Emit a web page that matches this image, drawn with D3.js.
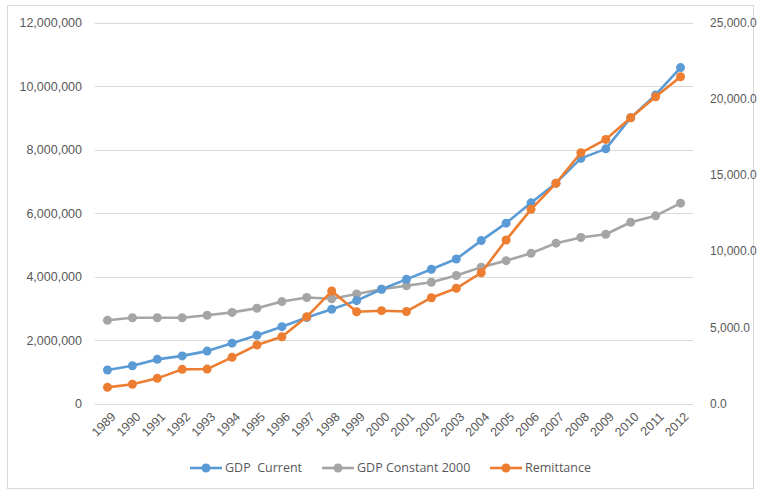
<!DOCTYPE html>
<html>
<head>
<meta charset="utf-8">
<script src="https://cdn.jsdelivr.net/npm/d3@7"></script>
<style>
  html, body { margin: 0; padding: 0; background: #fff; }
  svg { display: block; font-family: "Open Sans", "Noto Sans", sans-serif; }
</style>
</head>
<body>
<svg id="chart" width="761" height="492"></svg>
<script>
// Years on the category axis
const years = ["1989","1990","1991","1992","1993","1994","1995","1996","1997","1998","1999","2000",
               "2001","2002","2003","2004","2005","2006","2007","2008","2009","2010","2011","2012"];

// GDP at current prices (left axis)
const gdpCurrent = [1055000, 1190000, 1390000, 1500000, 1650000, 1900000, 2150000, 2420000, 2710000, 2970000,
                    3240000, 3600000, 3910000, 4230000, 4550000, 5130000, 5680000, 6320000, 6940000, 7720000,
                    8020000, 9000000, 9720000, 10580000];

// GDP at constant 2000 prices (left axis)
const gdpConstant = [2620000, 2700000, 2700000, 2700000, 2780000, 2870000, 3000000, 3210000, 3340000, 3300000,
                     3450000, 3600000, 3710000, 3820000, 4030000, 4290000, 4500000, 4730000, 5050000, 5230000,
                     5330000, 5710000, 5910000, 6310000];

// Remittance inflows (right axis)
const remittance = [1060, 1260, 1650, 2240, 2260, 3030, 3840, 4380, 5690, 7380,
                    6020, 6090, 6040, 6940, 7560, 8580, 10730, 12740, 14450, 16450,
                    17330, 18750, 20130, 21440];

const leftTicks = [0, 2000000, 4000000, 6000000, 8000000, 10000000, 12000000];
const rightTicks = [0, 5000, 10000, 15000, 20000, 25000];

const seriesNames = ["GDP  Current", "GDP Constant 2000", "Remittance"];
const seriesColors = ["#5B9BD5", "#A5A5A5", "#ED7D31"];

const svg = d3.select("#chart");
const plot = { left: 95, right: 693, top: 22.5, bottom: 403.5 };

// Light frame around the chart area
svg.append("rect")
  .attr("x", 7.5).attr("y", 5.5)
  .attr("width", 746).attr("height", 483)
  .attr("fill", "none").attr("stroke", "#d9d9d9").attr("stroke-width", 1);

const x = d3.scaleBand().domain(years).range([plot.left, plot.right]);
const yL = d3.scaleLinear().domain([0, 12000000]).range([plot.bottom, plot.top]);
const yR = d3.scaleLinear().domain([0, 25000]).range([plot.bottom, plot.top]);

// Horizontal gridlines
svg.append("g").selectAll("line").data(leftTicks).join("line")
  .attr("x1", plot.left).attr("x2", plot.right)
  .attr("y1", d => Math.round(yL(d)) + 0.5).attr("y2", d => Math.round(yL(d)) + 0.5)
  .attr("stroke", "#d9d9d9").attr("stroke-width", 1);

// Left axis
const leftAxis = svg.append("g")
  .attr("transform", `translate(${plot.left},0)`)
  .call(d3.axisLeft(yL).tickValues(leftTicks).tickFormat(d3.format(",")).tickSize(0).tickPadding(13));
leftAxis.select(".domain").remove();
leftAxis.selectAll("text").attr("fill", "#595959").style("font-size", "12.5px").style("font-family", "inherit");

// Right axis
const rightAxis = svg.append("g")
  .attr("transform", `translate(${plot.right},0)`)
  .call(d3.axisRight(yR).tickValues(rightTicks).tickFormat(d3.format(",.1f")).tickSize(0).tickPadding(17));
rightAxis.select(".domain").remove();
rightAxis.selectAll("text").attr("fill", "#595959").style("font-size", "12px").style("font-family", "inherit");

// Bottom category axis with rotated labels
const bottomAxis = svg.append("g")
  .attr("transform", `translate(0,${plot.bottom})`)
  .call(d3.axisBottom(x).tickSize(0).tickPadding(0));
bottomAxis.select(".domain").remove();
bottomAxis.selectAll("text")
  .attr("fill", "#595959").style("font-size", "12.5px").style("font-family", "inherit")
  .attr("text-anchor", "end")
  .attr("dy", "0")
  .attr("transform", "translate(9,14) rotate(-45)");

// Lines and markers
const cx = d => x(d) + x.bandwidth() / 2;
const series = [
  { values: gdpCurrent, scale: yL },
  { values: gdpConstant, scale: yL },
  { values: remittance, scale: yR }
];
const drawOrder = [1, 0, 2];
drawOrder.forEach(i => {
  const s = series[i];
  const pts = years.map((yr, j) => [cx(yr), s.scale(s.values[j])]);
  svg.append("path")
    .attr("d", d3.line()(pts))
    .attr("fill", "none").attr("stroke", seriesColors[i])
    .attr("stroke-width", 2.6).attr("stroke-linejoin", "round").attr("stroke-linecap", "round");
  svg.append("g").selectAll("circle").data(pts).join("circle")
    .attr("cx", d => d[0]).attr("cy", d => d[1]).attr("r", 4.5)
    .attr("fill", seriesColors[i]);
});

// Legend
const legendX = [190, 322, 490];
const legendY = 468;
const legend = svg.append("g");
seriesNames.forEach((name, i) => {
  const g = legend.append("g").attr("transform", `translate(${legendX[i]},${legendY})`);
  g.append("line").attr("x1", 0).attr("x2", 32).attr("y1", 0).attr("y2", 0)
    .attr("stroke", seriesColors[i]).attr("stroke-width", 2.6);
  g.append("circle").attr("cx", 16).attr("cy", 0).attr("r", 4.5).attr("fill", seriesColors[i]);
  g.append("text").attr("x", 35).attr("y", 0).attr("dy", "0.35em")
    .attr("fill", "#595959").style("font-size", "12.5px").style("white-space", "pre")
    .text(name);
});
</script>
</body>
</html>
